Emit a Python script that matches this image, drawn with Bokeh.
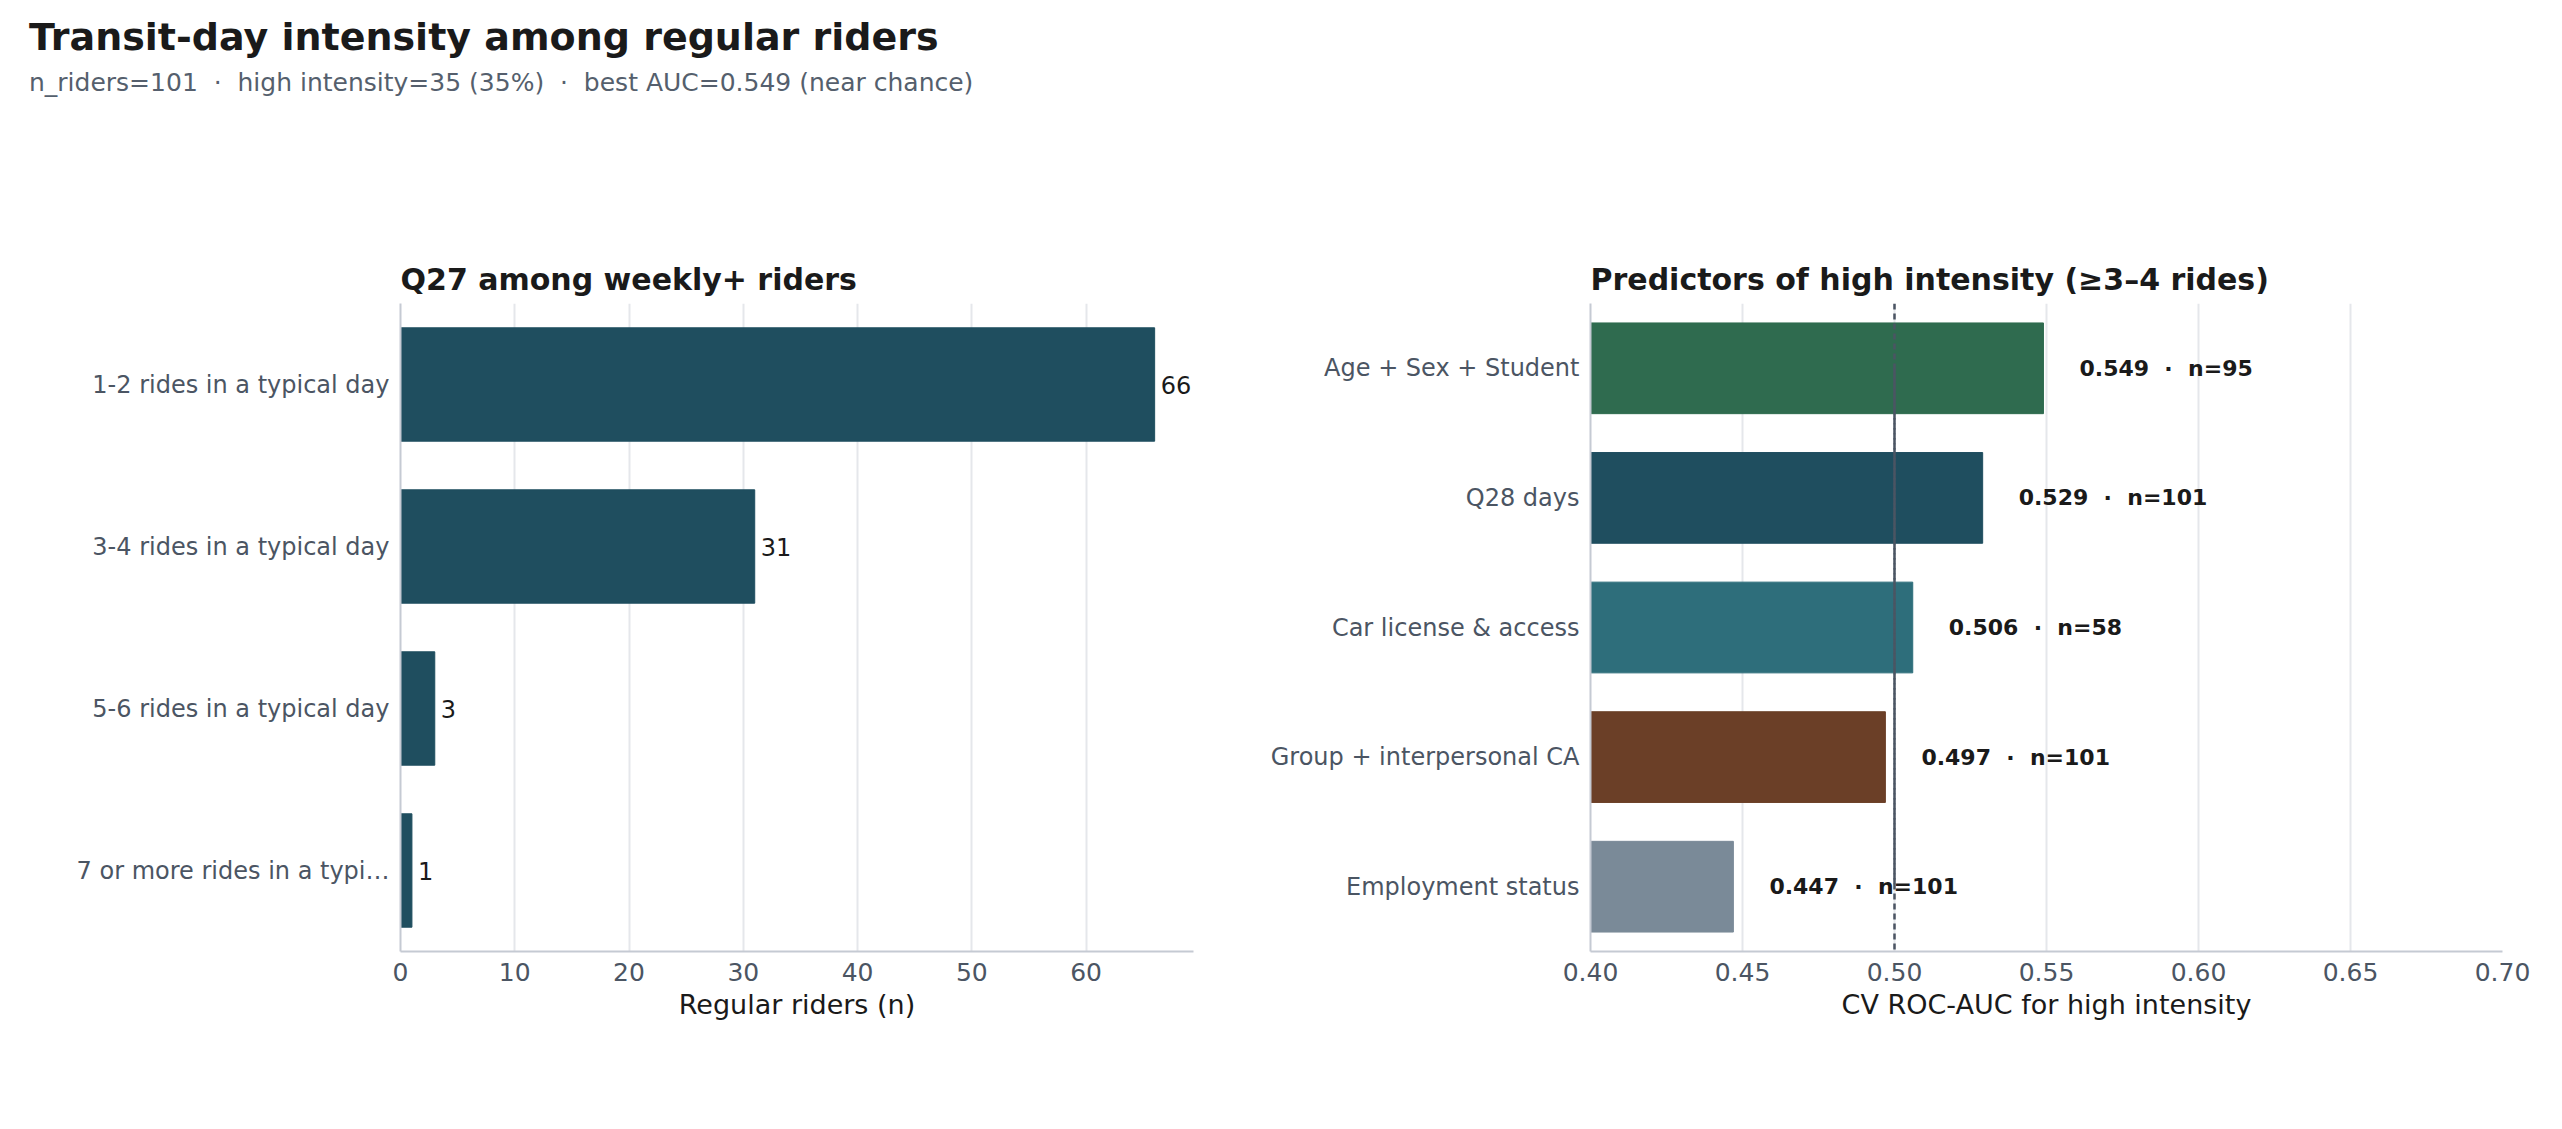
from bokeh.plotting import figure
from bokeh.models import Div, Span, Legend, LegendItem, ColumnDataSource, FixedTicker, NumeralTickFormatter, Range1d
from bokeh.layouts import column, row
from bokeh.embed import file_html
from bokeh.resources import INLINE

q27_cats = ["1-2 rides in a typical day", "3-4 rides in a typical day", "5-6 rides in a typical day", "7 or more rides in a typi\u2026"]
q27_counts = [66, 31, 3, 1]

pred_names = ["Age + Sex + Student", "Q28 days", "Car license & access", "Group + interpersonal CA", "Employment status"]
pred_auc = [0.549, 0.529, 0.506, 0.497, 0.447]
pred_n = [95, 101, 58, 101, 101]
pred_colors = ["#2f6b4f", "#1f4e5f", "#2e6e7b", "#6b3f27", "#7a8a98"]

FONT = "DejaVu Sans"
GRID = "#e5e7eb"
AXIS = "#c5cad3"
TICK = "#4b5563"
NB = "\u00a0"

def style(p):
    p.outline_line_color = None
    p.ygrid.grid_line_color = None
    p.xgrid.grid_line_color = GRID
    p.xgrid.grid_line_width = 2
    for ax in (p.xaxis[0], p.yaxis[0]):
        ax.axis_line_color = AXIS
        ax.axis_line_width = 2
        ax.major_tick_line_color = None
        ax.minor_tick_line_color = None
        ax.major_label_text_font = FONT
        ax.major_label_text_color = TICK
        ax.axis_label_text_font = FONT
        ax.axis_label_text_font_style = "normal"
        ax.axis_label_text_color = "#1a1a1a"
    p.xaxis.major_label_text_font_size = "25px"
    p.yaxis.major_label_text_font_size = "24px"
    p.xaxis.axis_label_text_font_size = "27px"
    p.title.text_font = FONT
    p.title.text_font_size = "30px"
    p.title.text_color = "#1a1a1a"
    p.title.standoff = 14

FH = 648
# left panel
p1 = figure(frame_width=793, frame_height=FH, y_range=list(reversed(q27_cats)), x_range=Range1d(0, 69.4),
            output_backend="svg", toolbar_location=None, title="Q27 among weekly+ riders",
            min_border_left=400, min_border_right=39, min_border_top=183, min_border_bottom=171)
src1 = ColumnDataSource(dict(cat=q27_cats, n=q27_counts, lab=[str(v) for v in q27_counts]))
p1.hbar(y="cat", right="n", left=0, height=0.7, source=src1, color="#1f4e5f")
p1.text(x="n", y="cat", text="lab", source=src1, x_offset=6, text_baseline="middle",
        text_font_size="24px", text_color="#1a1a1a", text_font={"value": FONT})
p1.xaxis.ticker = FixedTicker(ticks=[0, 10, 20, 30, 40, 50, 60])
p1.xaxis.axis_label = "Regular riders (n)"
style(p1)

# right panel
p2 = figure(frame_width=912, frame_height=FH, y_range=list(reversed(pred_names)), x_range=Range1d(0.40, 0.70),
            output_backend="svg", toolbar_location=None, title="Predictors of high intensity (\u22653\u20134 rides)",
            min_border_left=358, min_border_right=36, min_border_top=183, min_border_bottom=100)
src2 = ColumnDataSource(dict(name=pred_names, auc=pred_auc, col=pred_colors,
                             lab=[f"{a:.3f}{NB}{NB}\u00b7{NB}{NB}n={n}" for a, n in zip(pred_auc, pred_n)]))
p2.hbar(y="name", right="auc", left=0.40, height=0.7, source=src2, color="col")
p2.text(x="auc", y="name", text="lab", source=src2, x_offset=36, text_baseline="middle",
        text_font_size="22px", text_font_style="bold", text_color="#1a1a1a", text_font={"value": FONT})
p2.add_layout(Span(location=0.5, dimension="height", line_color="#4b5563", line_width=2.5, line_dash="6 4"))
chance = p2.line(x=[0.5, 0.5], y=[pred_names[0], pred_names[-1]], line_color="#4b5563", line_width=2.5, line_dash="6 4")
p2.xaxis.ticker = FixedTicker(ticks=[0.40, 0.45, 0.50, 0.55, 0.60, 0.65, 0.70])
p2.xaxis.formatter = NumeralTickFormatter(format="0.00")
p2.xaxis.axis_label = "CV ROC-AUC for high intensity"
style(p2)
leg = Legend(items=[LegendItem(label="Chance 0.50", renderers=[chance])], location="center",
             border_line_color=None, background_fill_alpha=0, label_text_font=FONT,
             label_text_font_size="20px", label_text_color="#1a1a1a", glyph_width=40, margin=10, padding=8)
p2.add_layout(leg, "below")

title = Div(text=("<div style='font-family:DejaVu Sans;padding-left:24px'>"
                  "<div style='font-size:38px;font-weight:bold;color:#1a1a1a;line-height:44px;margin-top:10px'>Transit-day intensity among regular riders</div>"
                  "<div style='font-size:25px;color:#555f6d;margin-top:6px'>n_riders=101 &nbsp;\u00b7&nbsp; high intensity=35 (35%) &nbsp;\u00b7&nbsp; best AUC=0.549 (near chance)</div>"
                  "</div>"), width=2546, height=110)

layout = column(title, row(p1, p2))
open("out.html", "w").write(file_html(layout, INLINE))
